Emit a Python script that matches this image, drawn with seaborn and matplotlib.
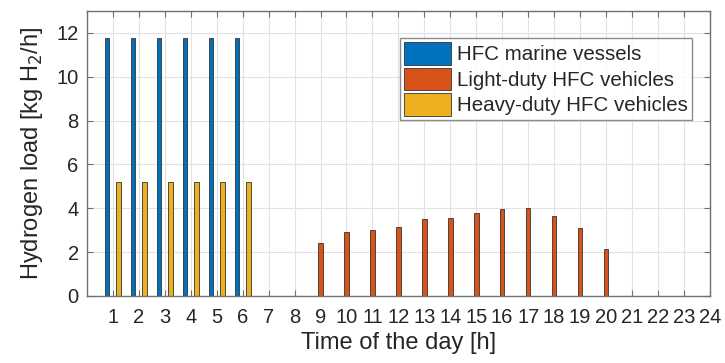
import matplotlib
matplotlib.use("Agg")
import matplotlib.pyplot as plt
import seaborn as sns
import pandas as pd

hours = list(range(1, 25))
series_names = ["HFC marine vessels", "Light-duty HFC vehicles", "Heavy-duty HFC vehicles"]
marine = [11.75] * 6 + [0] * 18
light_duty = [0] * 8 + [2.42, 2.91, 2.99, 3.13, 3.53, 3.54, 3.80, 3.95, 4.00, 3.65, 3.11, 2.14] + [0] * 4
heavy_duty = [5.2] * 6 + [0] * 18
colors = ["#0072BD", "#D95319", "#EDB120"]

rows = []
for name, vals in zip(series_names, [marine, light_duty, heavy_duty]):
    for h, v in zip(hours, vals):
        rows.append({"hour": str(h), "load": v, "series": name})
df = pd.DataFrame(rows)

sns.set_style("white")
plt.rcParams["font.family"] = ["Liberation Sans", "DejaVu Sans"]

fig = plt.figure(figsize=(7.25, 3.63), dpi=100)
ax = fig.add_axes([0.12, 0.1846, 0.859, 0.785])

sns.barplot(data=df, x="hour", y="load", hue="series", order=[str(h) for h in hours],
            hue_order=series_names, palette=colors, saturation=1, width=0.667, gap=0.2,
            edgecolor="#333333", linewidth=0.6, ax=ax, legend=True)

ax.set_xlim(-1, 23)
ax.set_ylim(0, 13)
ax.set_yticks(range(0, 13, 2))
ax.set_xticks(range(0, 24))
ax.set_xticklabels([str(h) for h in hours])
ax.grid(True, color="#e2e2e2", linewidth=0.8)
ax.set_axisbelow(True)
for s in ax.spines.values():
    s.set_color("#707070")
    s.set_linewidth(1.0)
ax.tick_params(direction="in", length=4, width=0.8, color="#707070",
               top=True, right=True, bottom=True, left=True,
               labelsize=14.5, labelcolor="#262626")
ax.tick_params(axis="x", pad=9)
ax.tick_params(axis="y", pad=6)
ax.set_xlabel("Time of the day [h]", fontsize=17, color="#262626", labelpad=3)
ax.set_ylabel("Hydrogen load [kg H$_2$/h]", fontsize=17, color="#262626", labelpad=8)

leg = ax.legend(loc="upper right", bbox_to_anchor=(0.971, 0.905), fontsize=14.8,
                frameon=True, fancybox=False, edgecolor="#707070",
                handlelength=2.25, handleheight=1.3, handletextpad=0.3,
                borderpad=0.2, labelspacing=0.15, borderaxespad=0.0)
leg.get_frame().set_linewidth(1.0)
for t in leg.get_texts():
    t.set_color("#262626")

fig.savefig("out.png", dpi=100)
